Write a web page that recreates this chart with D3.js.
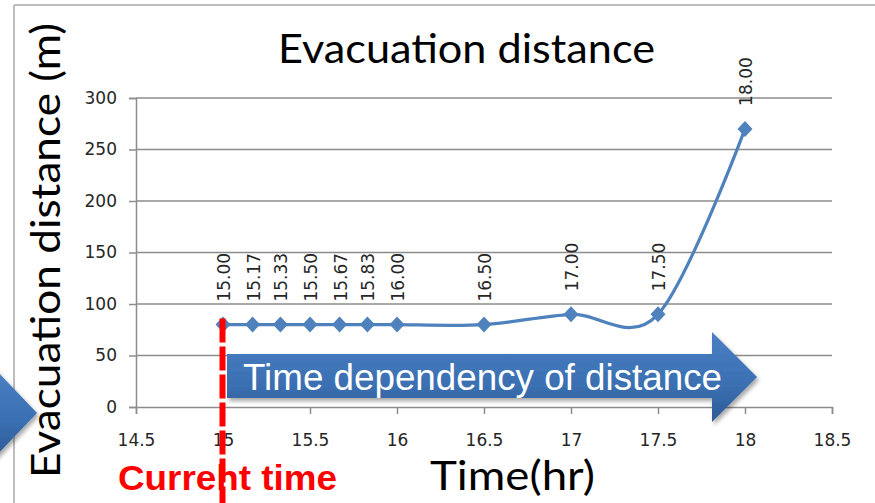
<!DOCTYPE html>
<html>
<head>
<meta charset="utf-8">
<script src="https://cdn.jsdelivr.net/npm/d3@7/dist/d3.min.js"></script>
<style>
  html, body { margin: 0; padding: 0; background: #fff; }
  svg { display: block; }
</style>
</head>
<body>
<svg id="chart" width="875" height="503"></svg>
<script>
// Evacuation distance over time
const times = [15, 15.17, 15.33, 15.5, 15.67, 15.83, 16, 16.5, 17, 17.5, 18];
const distances = [80, 80, 80, 80, 80, 80, 80, 80, 90, 90, 270];
const xTicks = [14.5, 15, 15.5, 16, 16.5, 17, 17.5, 18, 18.5];
const yTicks = [0, 50, 100, 150, 200, 250, 300];
const currentTime = 15;

const svg = d3.select("#chart");
const W = 875, H = 503;
const plot = { left: 136, right: 832, top: 98, bottom: 407 };

const x = d3.scaleLinear().domain([14.5, 18.5]).range([plot.left, plot.right]);
const y = d3.scaleLinear().domain([0, 300]).range([plot.bottom, plot.top]);

const defs = svg.append("defs");
const grad = defs.append("linearGradient").attr("id", "blueGrad")
  .attr("x1", 0).attr("y1", 0).attr("x2", 0).attr("y2", 1);
grad.append("stop").attr("offset", "0%").attr("stop-color", "#4a80c3");
grad.append("stop").attr("offset", "60%").attr("stop-color", "#3a6fb1");
grad.append("stop").attr("offset", "100%").attr("stop-color", "#2b5a94");
const shadow = defs.append("filter").attr("id", "shadow")
  .attr("x", "-10%").attr("y", "-20%").attr("width", "130%").attr("height", "150%");
shadow.append("feDropShadow").attr("dx", 2).attr("dy", 3).attr("stdDeviation", 2.2)
  .attr("flood-color", "#000").attr("flood-opacity", 0.35);

// chart frame
svg.append("line").attr("x1", 14).attr("x2", W).attr("y1", 5).attr("y2", 5)
  .attr("stroke", "#bdbdbd").attr("stroke-width", 2);
svg.append("line").attr("x1", 14).attr("x2", 14).attr("y1", 5).attr("y2", H)
  .attr("stroke", "#bdbdbd").attr("stroke-width", 2);

// horizontal gridlines
svg.append("g").selectAll("line").data(yTicks.filter(d => d > 0)).join("line")
  .attr("x1", plot.left).attr("x2", plot.right)
  .attr("y1", d => y(d)).attr("y2", d => y(d))
  .attr("stroke", "#8c8c8c").attr("stroke-width", 1.5);

// y axis
const yAxis = svg.append("g").attr("transform", `translate(${plot.left},0)`)
  .call(d3.axisLeft(y).tickValues(yTicks).tickSize(7).tickPadding(12).tickFormat(d => String(d)));
yAxis.select(".domain").attr("stroke", "#8c8c8c").attr("stroke-width", 1.5);
yAxis.selectAll(".tick line").attr("stroke", "#8c8c8c").attr("stroke-width", 1.5);
yAxis.selectAll(".tick text").attr("font-family", "DejaVu Sans").attr("font-size", 17)
  .attr("fill", "#262626");

// x axis
const xAxis = svg.append("g").attr("transform", `translate(0,${plot.bottom})`)
  .call(d3.axisBottom(x).tickValues(xTicks).tickSize(7).tickPadding(20).tickFormat(d => String(d)));
xAxis.select(".domain").attr("stroke", "#8c8c8c").attr("stroke-width", 1.5);
xAxis.selectAll(".tick line").attr("stroke", "#8c8c8c").attr("stroke-width", 1.5);
xAxis.selectAll(".tick text").attr("font-family", "DejaVu Sans").attr("font-size", 17)
  .attr("fill", "#262626");

// smoothed series line
const pts = times.map((t, i) => [t, distances[i]]);
const line = d3.line().x(d => x(d[0])).y(d => y(d[1])).curve(d3.curveCardinal.tension(0));
svg.append("path").datum(pts).attr("d", line)
  .attr("fill", "none").attr("stroke", "#4f81bd").attr("stroke-width", 3.2);

// diamond markers
svg.append("g").selectAll("path").data(pts).join("path")
  .attr("d", d => {
    const cx = x(d[0]), cy = y(d[1]);
    return `M${cx},${cy - 8}L${cx + 7.5},${cy}L${cx},${cy + 8}L${cx - 7.5},${cy}Z`;
  })
  .attr("fill", "#4f81bd");

// rotated time labels above points
svg.append("g").selectAll("text").data(pts).join("text")
  .attr("transform", d => `translate(${x(d[0]) + 1},${y(d[1]) - 23}) rotate(-90)`)
  .attr("dominant-baseline", "central")
  .attr("font-family", "DejaVu Sans").attr("font-size", 17).attr("fill", "#262626")
  .text(d => d3.format(".2f")(d[0]));

// block arrow
svg.append("path")
  .attr("d", "M227,354L712,354L712,332L757,377L712,422L712,398L227,398Z")
  .attr("fill", "url(#blueGrad)").attr("filter", "url(#shadow)");
svg.append("text").attr("x", 243).attr("y", 390)
  .attr("font-family", "Liberation Sans, Arial").attr("font-size", 37).attr("fill", "#fff")
  .attr("textLength", 479).attr("lengthAdjust", "spacingAndGlyphs")
  .text("Time dependency of distance");

// side arrowhead at the left edge
svg.append("path").attr("d", "M-6,368L37,413L-6,458Z")
  .attr("fill", "url(#blueGrad)").attr("filter", "url(#shadow)");

// titles
svg.append("text").attr("x", 278).attr("y", 63)
  .attr("font-family", "Lato").attr("font-size", 41).attr("fill", "#000")
  .attr("textLength", 377).attr("lengthAdjust", "spacingAndGlyphs")
  .text("Evacuation distance");

svg.append("text").attr("transform", "translate(60,478) rotate(-90)")
  .attr("font-family", "Lato").attr("font-size", 41).attr("fill", "#000")
  .attr("textLength", 455).attr("lengthAdjust", "spacingAndGlyphs")
  .text("Evacuation distance (m)");

svg.append("text").attr("x", 430).attr("y", 490)
  .attr("font-family", "Lato").attr("font-size", 40).attr("fill", "#000")
  .attr("textLength", 165).attr("lengthAdjust", "spacingAndGlyphs")
  .text("Time(hr)");

svg.append("text").attr("x", 118).attr("y", 490)
  .attr("font-family", "Liberation Sans, Arial").attr("font-weight", "bold")
  .attr("font-size", 35).attr("fill", "#ff0000")
  .attr("textLength", 219).attr("lengthAdjust", "spacingAndGlyphs")
  .text("Curreht time");

// current-time marker, drawn over the labels
svg.append("line")
  .attr("x1", x(currentTime) - 0.5).attr("x2", x(currentTime) - 0.5)
  .attr("y1", y(distances[0]) - 6).attr("y2", H)
  .attr("stroke", "#ff0000").attr("stroke-width", 6).attr("stroke-dasharray", "24,4");
</script>
</body>
</html>
